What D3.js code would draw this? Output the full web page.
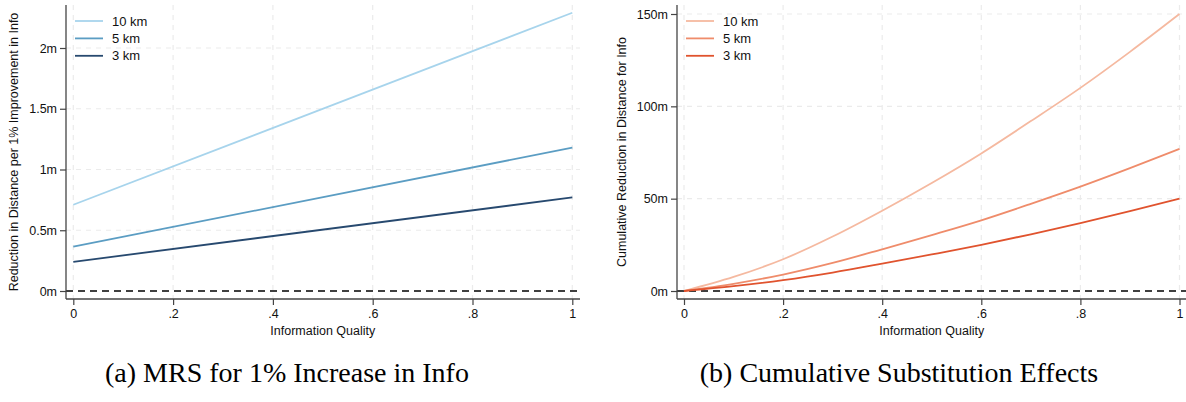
<!DOCTYPE html>
<html>
<head>
<meta charset="utf-8">
<script src="https://cdn.jsdelivr.net/npm/d3@7"></script>
<style>
  html, body { margin: 0; padding: 0; background: #fff; }
  svg { display: block; }
  .tick text { font-family: "Liberation Sans", Arial, sans-serif; }
</style>
</head>
<body>
<svg id="chart" width="1186" height="402"></svg>
<script>
// Distances (series labels)
const distances = ["10 km", "5 km", "3 km"];

// Panel (a): MRS, metres of distance per 1% improvement in info
const mrsQuality = [0, 1];
const mrs10km = [0.71, 2.29];
const mrs5km = [0.365, 1.18];
const mrs3km = [0.24, 0.77];

// Panel (b): cumulative reduction in distance (metres)
const cumQuality = [0, 0.1, 0.2, 0.3, 0.4, 0.5, 0.6, 0.7, 0.8, 0.9, 1.0];
const cum10km = [0, 7.6, 17.2, 29.5, 43.5, 58.5, 74.5, 92.0, 110.0, 129.5, 150.0];
const cum5km = [0, 3.9, 8.9, 15.2, 22.6, 30.3, 38.3, 47.2, 56.5, 66.5, 77.0];
const cum3km = [0, 2.6, 5.9, 10.0, 14.8, 19.8, 25.0, 30.7, 36.8, 43.2, 50.0];

// Tick labels
const xTicks = [0, 0.2, 0.4, 0.6, 0.8, 1];
const xTickLabels = ["0", ".2", ".4", ".6", ".8", "1"];
const mrsTicks = [0, 0.5, 1, 1.5, 2];
const mrsTickLabels = ["0m", "0.5m", "1m", "1.5m", "2m"];
const cumTicks = [0, 50, 100, 150];
const cumTickLabels = ["0m", "50m", "100m", "150m"];

const svg = d3.select("#chart");

function drawPanel(cfg) {
  const g = svg.append("g");
  const x = d3.scaleLinear().domain([0, 1]).range(cfg.xRange);
  const y = d3.scaleLinear().domain(cfg.yDomain).range([cfg.zeroY, cfg.topRefY]);

  const plotLeft = cfg.axisX, plotRight = cfg.plotRight;
  const plotTop = 5, plotBottom = 299;

  // gridlines
  const grid = g.append("g").attr("stroke", "#ebebeb").attr("stroke-width", 1.2)
    .attr("stroke-dasharray", "5,5");
  xTicks.forEach(t => {
    grid.append("line").attr("x1", x(t)).attr("x2", x(t))
      .attr("y1", plotTop).attr("y2", plotBottom);
  });
  cfg.yTicks.forEach(t => {
    if (t === 0) return;
    grid.append("line").attr("x1", plotLeft).attr("x2", plotRight)
      .attr("y1", y(t)).attr("y2", y(t));
  });

  // zero reference line
  g.append("line").attr("x1", plotLeft).attr("x2", plotRight)
    .attr("y1", y(0)).attr("y2", y(0))
    .attr("stroke", "#000").attr("stroke-width", 1.4)
    .attr("stroke-dasharray", "7,5");

  // series
  const line = d3.line().curve(d3.curveMonotoneX).x(d => x(d[0])).y(d => y(d[1]));
  cfg.series.forEach((s, i) => {
    const pts = cfg.xs.map((q, j) => [q, s[j]]);
    g.append("path").datum(pts).attr("d", line)
      .attr("fill", "none").attr("stroke", cfg.colors[i]).attr("stroke-width", 1.8);
  });

  // axes
  const axisColor = "#444";
  const yAxis = d3.axisLeft(y).tickValues(cfg.yTicks)
    .tickFormat((d, i) => cfg.yTickLabels[i]).tickSize(6).tickPadding(3);
  const ya = g.append("g").attr("transform", `translate(${plotLeft},0)`).call(yAxis);
  ya.select(".domain").attr("d", `M0,${plotTop}V${plotBottom}`);
  const xAxis = d3.axisBottom(x).tickValues(xTicks)
    .tickFormat((d, i) => xTickLabels[i]).tickSize(6).tickPadding(4);
  const xa = g.append("g").attr("transform", `translate(0,${plotBottom})`).call(xAxis);
  xa.select(".domain").attr("d", `M${plotLeft},0H${plotRight}`);
  [ya, xa].forEach(a => {
    a.selectAll(".domain").attr("stroke", axisColor).attr("stroke-width", 1.3);
    a.selectAll(".tick line").attr("stroke", axisColor).attr("stroke-width", 1.2);
    a.selectAll(".tick text").attr("fill", "#111").attr("font-size", 12.5);
  });

  // axis titles
  g.append("text").attr("x", (cfg.xRange[0] + cfg.xRange[1]) / 2).attr("y", 335)
    .attr("text-anchor", "middle").attr("font-family", "Liberation Sans, Arial, sans-serif")
    .attr("font-size", 12.5).attr("fill", "#111").text("Information Quality");
  g.append("text")
    .attr("transform", `translate(${cfg.yTitleX},${(plotTop + plotBottom) / 2}) rotate(-90)`)
    .attr("text-anchor", "middle").attr("font-family", "Liberation Sans, Arial, sans-serif")
    .attr("font-size", 12.5).attr("fill", "#111").text(cfg.yTitle);

  // legend
  const leg = g.append("g");
  distances.forEach((name, i) => {
    const ly = 21 + i * 17.4;
    leg.append("line").attr("x1", cfg.legendX).attr("x2", cfg.legendX + 28)
      .attr("y1", ly).attr("y2", ly).attr("stroke", cfg.colors[i]).attr("stroke-width", 1.8);
    leg.append("text").attr("x", cfg.legendX + 37).attr("y", ly + 4.5)
      .attr("font-family", "Liberation Sans, Arial, sans-serif").attr("font-size", 13)
      .attr("fill", "#111").text(name);
  });

  // caption
  g.append("text").attr("x", cfg.captionX).attr("y", 382).attr("text-anchor", "middle")
    .attr("font-family", "Liberation Serif, Times New Roman, serif").attr("font-size", 28)
    .attr("fill", "#000").text(cfg.caption);
}

drawPanel({
  xs: mrsQuality,
  series: [mrs10km, mrs5km, mrs3km],
  colors: ["#a7d4ec", "#5b9dc3", "#27496f"],
  xRange: [73.3, 572.3],
  yDomain: [0, 2],
  zeroY: 291, topRefY: 48,
  axisX: 66, plotRight: 580,
  yTicks: mrsTicks, yTickLabels: mrsTickLabels,
  yTitle: "Reduction in Distance per 1% Improvement in Info",
  yTitleX: 18,
  legendX: 75,
  caption: "(a) MRS for 1% Increase in Info",
  captionX: 287
});

drawPanel({
  xs: cumQuality,
  series: [cum10km, cum5km, cum3km],
  colors: ["#f5b9a0", "#ef8c6b", "#e0532e"],
  xRange: [684, 1179.5],
  yDomain: [0, 150],
  zeroY: 291, topRefY: 14,
  axisX: 677, plotRight: 1186,
  yTicks: cumTicks, yTickLabels: cumTickLabels,
  yTitle: "Cumulative Reduction in Distance for Info",
  yTitleX: 626,
  legendX: 686,
  caption: "(b) Cumulative Substitution Effects",
  captionX: 899
});
</script>
</body>
</html>
